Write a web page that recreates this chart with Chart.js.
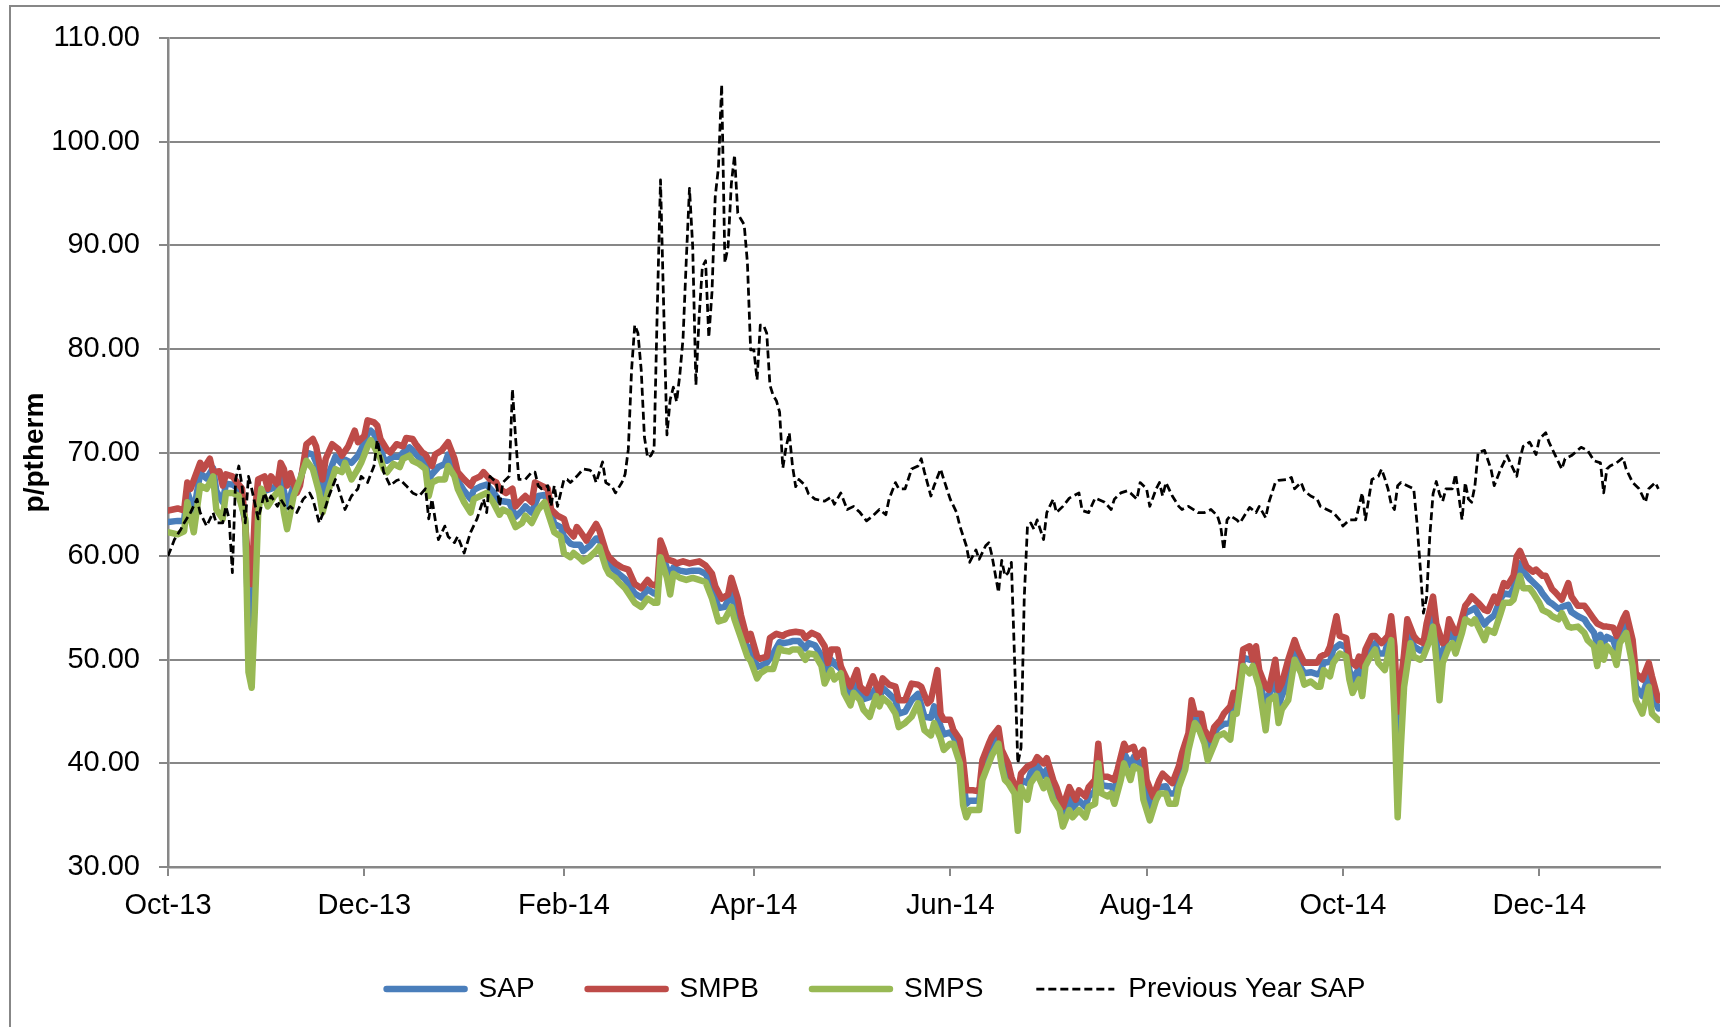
<!DOCTYPE html>
<html>
<head>
<meta charset="utf-8">
<script src="https://cdn.jsdelivr.net/npm/chart.js@4.4.1/dist/chart.umd.min.js"></script>
<style>
html,body{margin:0;padding:0;background:#fff;}
#wrap{position:relative;width:1720px;height:1027px;overflow:hidden;}
#frame{position:absolute;left:9px;top:5px;width:1800px;height:1100px;border-left:2px solid #878787;border-top:2px solid #878787;pointer-events:none;}
canvas{position:absolute;left:0;top:0;}
</style>
</head>
<body>
<div id="wrap"><canvas id="c" width="1720" height="1027"></canvas><div id="frame"></div></div>
<script>
// Day 0 = 1 Oct 2013; each pair is [day, p/therm]
const START_DATE = '2013-10-01';
const TICK_DATES = ['2013-10-01','2013-12-01','2014-02-01','2014-04-01','2014-06-01','2014-08-01','2014-10-01','2014-12-01'];
const TICK_LABELS = ['Oct-13','Dec-13','Feb-14','Apr-14','Jun-14','Aug-14','Oct-14','Dec-14'];
const SERIES_NAMES = ['SAP','SMPB','SMPS','Previous Year SAP'];

const SAP = [[0,63.3],[3,63.4],[5,63.4],[6,66.2],[8,64.3],[10,68],[12,67.5],[14,68.5],[15,66.3],[17,65.2],[18,67],[20,66.9],[22,66.5],[24,63.3],[25,53],[26,51],[27,60],[28,65.5],[30,66.3],[33,66.6],[35,67.8],[36,66.3],[37,64.7],[39,66.8],[41,67.1],[43,70],[45,69.8],[47,68.3],[48,65.8],[50,68],[52,69.6],[54,68.9],[55,69.3],[57,69],[59,69.7],[60,70.3],[62,71.8],[63,72.1],[64,71.8],[66,70.4],[67,69.4],[68,69.2],[70,69.6],[72,69.6],[73,70],[75,70.5],[76,70.2],[78,69.5],[80,69.1],[81,67.4],[82,67.9],[84,68.6],[86,68.9],[87,69.8],[89,68.5],[90,67.3],[92,66.3],[94,65.5],[95,66.4],[97,66.7],[99,66.9],[101,66.2],[103,65.3],[104,65.3],[106,65.2],[108,63.8],[110,64.4],[111,64.8],[113,64.2],[115,65.8],[117,65.9],[118,65.3],[120,63.1],[122,62.8],[123,61.9],[125,61.2],[126,61.1],[128,61.1],[129,60.5],[131,61],[133,61.7],[134,61.7],[136,59.7],[137,59.1],[139,58.6],[140,58.3],[142,57.8],[145,56.4],[147,56],[149,56.8],[151,56.4],[152,56.3],[153,60.7],[155,58.8],[156,58],[157,58.9],[159,58.6],[161,58.5],[163,58.6],[165,58.6],[167,58.3],[169,57.1],[171,55],[173,55.1],[175,56.5],[176,55],[178,53.2],[180,51.1],[181,51.2],[183,49.3],[184,49.4],[186,49.7],[188,50.6],[190,51.7],[191,51.6],[193,51.7],[194,51.8],[196,51.8],[198,51.1],[199,51.6],[201,51.4],[203,50.4],[204,48.7],[206,50],[207,49.6],[209,49.1],[210,47.8],[212,46.5],[213,47.9],[215,46.8],[216,46.2],[218,46.4],[220,47.3],[221,46.2],[222,47.3],[224,46.7],[226,46.1],[227,44.8],[229,45],[231,46.1],[233,46.7],[235,44.5],[237,44.4],[238,45.5],[240,43.6],[241,42.8],[243,43],[244,42.6],[246,41.2],[247,38.3],[248,36.1],[249,36.4],[251,36.4],[252,36.4],[253,39.3],[255,40.9],[256,41.7],[258,42.6],[259,40.5],[260,39.3],[261,39.1],[263,37.9],[264,35.3],[265,38.4],[267,38.1],[268,39.1],[270,39.8],[272,38.8],[273,39.4],[275,37.5],[277,36.6],[278,34.9],[280,36.6],[281,35.7],[283,36.4],[285,35.8],[286,36.8],[288,37.3],[289,41],[290,37.9],[292,37.8],[293,37.8],[294,37.3],[296,39.9],[297,41],[299,39.8],[300,40.6],[302,40],[303,38.9],[305,35.6],[307,37.4],[308,37.7],[310,37.8],[311,37.1],[313,37.1],[314,38.7],[316,40.2],[317,42.1],[318,45],[319,44.4],[320,44.1],[322,42.6],[323,41.3],[325,42.7],[326,43.4],[328,43.8],[330,43.9],[331,45.8],[332,45.5],[334,50.2],[336,50],[337,50.4],[339,48.2],[341,45.3],[342,46.6],[344,48.2],[345,45.5],[346,46.5],[348,48],[350,51],[352,49.2],[353,48.7],[355,48.8],[357,48.6],[358,48.8],[359,49.7],[361,49.8],[362,51],[364,51.5],[366,51.2],[367,49],[368,48],[370,49.2],[371,48],[372,50.2],[373,51.1],[375,51.6],[376,50.6],[378,50.6],[380,53],[381,48],[382,40],[383,46],[384,49],[386,52.7],[387,51.3],[389,50.9],[390,50.9],[392,52.7],[393,54.6],[394,51.8],[395,49],[396,50.8],[398,52.6],[399,52.2],[400,51.6],[402,53.2],[403,54.5],[405,54.8],[406,55],[407,54.4],[409,53.4],[410,53.8],[412,54.3],[414,55.9],[415,56.4],[417,56.3],[418,56.9],[420,59.3],[421,58.6],[423,57.8],[424,57.5],[426,56.9],[427,56.4],[429,55.6],[430,55.4],[432,54.9],[433,55.1],[435,55.3],[436,54.6],[438,54.2],[440,53.9],[441,53.4],[443,52.6],[444,51.5],[445,52.4],[446,51.6],[447,52.2],[449,51.9],[450,50.9],[451,52.6],[453,53.5],[455,50.6],[456,47.4],[458,46.5],[460,48.5],[461,46.6],[463,45.3]];

const SMPB = [[0,64.4],[3,64.6],[5,64.4],[6,67.1],[7,66.5],[10,69],[11,68.4],[13,69.4],[14,68.1],[16,68.2],[17,66.8],[18,67.9],[20,67.7],[21,67.3],[23,66.5],[24,63],[25,59],[26,57.3],[27,64.2],[28,67.4],[30,67.7],[31,66.5],[32,67.7],[34,66.9],[35,69],[36,68.4],[37,66.8],[38,68],[40,66.1],[41,66.8],[43,70.8],[45,71.3],[46,70.6],[48,67.4],[49,69.4],[51,70.8],[53,70.3],[54,69.7],[56,70.6],[58,72.1],[59,71],[61,71.6],[62,73.1],[64,72.9],[65,72.6],[66,71.3],[68,70.3],[69,70],[71,70.8],[73,70.6],[74,71.4],[76,71.3],[77,70.8],[79,70],[80,69.8],[82,68.7],[83,69.8],[85,70.2],[87,71],[89,69.4],[90,68.1],[92,67.4],[94,66.8],[95,67.4],[97,67.7],[98,68.1],[100,67.4],[102,67.1],[103,66.5],[105,66.1],[107,66.5],[108,64.8],[110,65.5],[111,65.8],[113,65.2],[114,67.1],[116,66.8],[118,66.5],[119,64.5],[121,63.9],[123,63.6],[124,62.6],[126,61.9],[127,62.8],[128,62.4],[130,61.5],[131,62.1],[133,63.1],[134,62.5],[136,60.5],[137,59.9],[139,59.3],[141,58.9],[143,58.7],[145,57.3],[147,56.9],[149,57.7],[150,57.3],[152,57.1],[153,61.5],[154,60.7],[155,59.7],[157,59.5],[158,59.3],[160,59.5],[162,59.3],[165,59.5],[167,59.1],[169,58.3],[170,57.1],[172,55.9],[174,56.3],[175,57.9],[177,55.9],[178,54.3],[180,51.9],[181,52.5],[183,50.3],[184,50.1],[186,50.3],[187,52.1],[189,52.5],[191,52.3],[192,52.5],[193,52.6],[195,52.7],[197,52.6],[198,52.1],[200,52.6],[202,52.3],[204,51.3],[205,49.7],[206,51],[208,51],[209,49.4],[210,48.7],[212,47.4],[214,49],[215,47.4],[217,46.8],[219,48.4],[221,46.8],[222,48.2],[224,47.6],[226,47.4],[227,46.1],[229,46.1],[231,47.7],[233,47.6],[234,47.4],[236,45.8],[237,46.1],[239,49],[240,44.8],[241,44.2],[243,44.2],[244,43.2],[246,42.3],[247,40.3],[248,37.4],[250,37.4],[252,37.3],[253,40.3],[255,41.9],[256,42.6],[258,43.4],[259,41.3],[261,40],[262,38.7],[264,37.1],[265,39],[267,39.7],[269,40],[270,40.6],[272,40],[273,40.5],[275,38.4],[276,37.7],[278,35.8],[280,37.7],[282,36.5],[283,37.4],[285,36.8],[286,37.7],[288,38.4],[289,41.9],[290,38.7],[292,38.7],[294,38.4],[295,39.4],[297,41.9],[298,41.3],[300,41.6],[301,40.6],[303,41.3],[304,38.4],[306,36.8],[308,38.4],[309,39],[311,38.4],[312,38.1],[314,39.7],[315,41],[317,42.9],[318,46.1],[319,44.8],[321,44.8],[322,43.2],[324,42.3],[325,43.5],[327,44.2],[328,44.8],[330,45.5],[331,46.8],[332,46.1],[334,51],[336,51.3],[337,50],[338,51.3],[339,49],[341,47.4],[342,47.1],[344,50],[345,47.1],[346,47.7],[348,50],[350,51.9],[351,51],[353,49.7],[355,49.7],[357,49.7],[358,50.3],[360,50.6],[361,51.3],[363,54.2],[364,52.3],[366,52.1],[367,50],[369,49.4],[370,50.3],[371,49.4],[372,51],[374,52.3],[375,52.3],[377,51.6],[379,52.3],[380,54.2],[381,51.3],[382,45],[384,50.6],[385,53.9],[387,52.3],[388,51.9],[390,51.6],[391,53.5],[393,56.1],[394,53.5],[396,51.6],[397,51.9],[398,53.9],[400,52.6],[401,52.9],[403,55.2],[404,55.6],[405,56.1],[407,55.5],[409,54.8],[410,54.7],[412,56.1],[413,55.5],[415,57.4],[416,57.1],[418,58.1],[419,60],[420,60.5],[422,59],[424,58.5],[425,58.7],[427,58.1],[428,58.1],[430,56.8],[431,56.5],[433,55.8],[435,57.4],[436,56.1],[438,55.2],[440,55.2],[441,54.8],[443,53.9],[444,53.5],[446,53.2],[447,53.2],[449,53.1],[450,52.3],[452,53.9],[453,54.5],[455,51.9],[456,48.7],[458,48.1],[460,49.7],[461,48.4],[463,46.1]];

const SMPS = [[0,62.3],[3,62.1],[5,62.4],[6,65.2],[8,62.3],[10,66.8],[12,66.5],[14,67.7],[15,64.5],[17,63.6],[18,66.1],[20,66.1],[22,65.8],[24,63.6],[25,48.8],[26,47.3],[27,55],[28,64],[29,66.5],[31,64.8],[33,65.8],[35,66.5],[36,64.2],[37,62.6],[39,65.8],[41,67.4],[43,69.2],[45,68.4],[47,66.1],[48,64.2],[50,66.5],[52,68.4],[54,68.1],[55,69],[57,67.4],[59,68.4],[60,69],[62,70.6],[63,71.2],[64,70.6],[66,69.4],[67,68.4],[68,68.1],[70,68.9],[72,68.6],[73,69.4],[75,69.7],[76,69.2],[78,68.9],[80,68.4],[81,65.8],[82,67.1],[84,67.4],[86,67.4],[87,68.7],[89,67.7],[90,66.5],[92,65.2],[94,64.2],[95,65.5],[97,65.8],[99,66.1],[101,65.2],[103,64],[104,64.5],[106,64.2],[108,62.8],[110,63.2],[111,63.9],[113,63.2],[115,64.5],[117,65.2],[118,64.2],[120,62.3],[122,61.9],[123,60.3],[125,59.9],[126,60.3],[128,59.8],[129,59.5],[131,59.9],[133,60.5],[134,60.9],[136,58.9],[137,58.3],[139,57.9],[140,57.5],[142,56.9],[145,55.5],[147,55.1],[149,55.9],[151,55.5],[152,55.5],[153,59.9],[155,57.9],[156,56.3],[157,58.3],[159,57.9],[161,57.7],[163,57.9],[165,57.7],[167,57.5],[169,55.9],[171,53.7],[173,53.9],[175,55.1],[176,53.9],[178,52.1],[180,50.3],[181,49.9],[183,48.2],[184,48.7],[186,49.1],[188,49.1],[190,51.1],[191,50.9],[193,50.8],[194,51],[196,51],[198,50],[199,50.6],[201,50.5],[203,49.4],[204,47.7],[206,49],[207,48.1],[209,48.7],[210,46.8],[212,45.6],[213,46.8],[215,46.1],[216,45.2],[218,44.5],[220,46.5],[221,45.5],[222,46.3],[224,45.8],[226,44.8],[227,43.5],[229,43.9],[231,44.5],[233,45.8],[235,43.2],[237,42.7],[238,43.9],[240,42.4],[241,41.3],[243,41.9],[244,41.9],[246,40],[247,36],[248,34.8],[249,35.5],[251,35.5],[252,35.5],[253,38.4],[255,40],[256,40.8],[258,41.9],[259,39.7],[260,38.4],[261,38.1],[263,37.1],[264,33.5],[265,37.7],[267,36.5],[268,38.1],[270,39],[272,37.6],[273,38.4],[275,36.5],[277,35.5],[278,33.9],[280,35.5],[281,34.8],[283,35.5],[285,34.8],[286,35.8],[288,36.1],[289,40],[290,37.1],[292,36.8],[293,37.1],[294,36.1],[296,38.4],[297,40],[299,38.4],[300,39.7],[302,39.4],[303,36.5],[305,34.5],[307,36.5],[308,37.1],[310,37.1],[311,36.1],[313,36.1],[314,37.7],[316,39.4],[317,41.3],[319,43.9],[320,43.5],[322,41.9],[323,40.3],[325,41.8],[326,42.6],[328,42.9],[330,42.3],[331,44.8],[332,44.8],[334,49.4],[336,48.7],[337,49.4],[339,47.4],[341,43.2],[342,46.1],[344,46.5],[345,43.9],[346,45.2],[348,46.1],[350,50],[352,48.7],[353,47.6],[355,47.9],[357,47.4],[358,47.4],[359,49],[361,48.4],[362,49.7],[364,50.6],[366,50.3],[367,48.1],[368,46.8],[370,48.1],[371,46.5],[372,49.4],[373,50],[375,51],[376,49.7],[378,49],[380,51.9],[381,44.8],[382,34.8],[383,41.6],[384,47.4],[386,51.6],[387,50.3],[389,50],[390,50.3],[392,51.9],[393,53.2],[394,50],[395,46.1],[396,49.7],[398,51.3],[399,51.6],[400,50.6],[402,52.6],[403,53.9],[405,53.5],[406,53.9],[407,53.2],[409,51.9],[410,52.9],[412,52.6],[414,54.5],[415,55.5],[417,55.5],[418,55.8],[420,58.1],[421,56.9],[423,56.9],[424,56.5],[426,55.5],[427,54.8],[429,54.5],[430,54.2],[432,53.9],[433,54.5],[435,53.2],[436,53.1],[438,53.2],[440,52.6],[441,51.9],[443,51.3],[444,49.4],[445,51.6],[446,50],[447,51.3],[449,50.6],[450,49.5],[451,51.6],[453,52.6],[455,49.4],[456,46.1],[458,44.8],[460,47.4],[461,44.8],[463,44.2]];

const PREV_SAP = [[0,60],[2,61.6],[4,62.6],[5,63.2],[7,64.2],[9,65.5],[10,64.2],[12,62.9],[14,64.2],[15,63.2],[17,63.2],[18,64.8],[19,63.6],[20,58.4],[21,67.4],[22,68.7],[23,66.8],[24,63.2],[25,67.7],[26,66.5],[28,63.6],[30,66.1],[31,65.2],[32,65.8],[34,64.8],[35,65.5],[37,64.5],[38,64.8],[40,64.2],[42,65.5],[44,66.1],[45,65.5],[47,63.2],[49,64.8],[50,65.8],[52,67.4],[53,66.5],[55,64.5],[57,65.8],[59,66.5],[60,67.7],[62,67.1],[64,68.7],[65,71.2],[66,69.7],[67,68.1],[69,66.8],[71,67.3],[72,67.4],[74,66.8],[76,66.1],[78,65.8],[80,66.5],[81,63.6],[82,65.5],[84,61.6],[86,62.9],[87,61.9],[89,61.3],[90,61.9],[92,60.3],[94,62.3],[96,63.6],[98,65.5],[99,64.2],[100,67.7],[102,67.1],[103,64.8],[104,67.1],[106,67.7],[107,76.1],[108,71.3],[109,67.4],[111,67.4],[113,68.1],[114,68.1],[115,66.8],[116,66.5],[118,66.8],[119,64.8],[120,66.8],[121,64.8],[123,67.4],[124,67.4],[125,67.1],[127,67.7],[129,68.4],[131,68.3],[132,68.1],[133,67.1],[135,69.1],[136,67.1],[138,66.7],[139,66.1],[141,67.1],[142,67.9],[143,70.3],[144,77.9],[145,82.3],[146,81.5],[147,78],[148,71.5],[149,69.5],[150,69.7],[151,70.3],[152,83.9],[153,96.3],[154,83.9],[155,71.7],[156,75.1],[157,76.3],[158,74.9],[159,77.5],[160,81],[161,88.5],[162,95.5],[163,89.9],[164,76.5],[165,83.1],[166,87.9],[167,88.5],[168,81.1],[169,85.5],[170,94.7],[171,97.5],[172,105.5],[173,88.3],[174,89.9],[175,95.9],[176,98.7],[177,93.1],[178,92.5],[179,92],[180,88.3],[181,79.9],[182,79.9],[183,77],[184,82.3],[185,82.3],[186,81.5],[187,76.5],[188,75.5],[189,75],[190,73.9],[191,68.5],[192,70.5],[193,71.9],[194,68.7],[195,66.7],[196,67.4],[198,66.8],[199,66],[201,65.5],[204,65.3],[206,65.7],[207,65],[209,66.1],[211,64.5],[213,64.8],[215,64.2],[217,63.4],[219,63.9],[221,64.5],[223,64],[224,65.5],[226,67.1],[227,66.5],[229,66.5],[231,68.4],[233,68.7],[234,69.4],[235,68.1],[237,65.8],[238,66.8],[240,68.4],[241,67.4],[243,65.5],[245,64.2],[246,62.9],[248,61],[249,59.4],[251,60.6],[252,59.7],[254,61],[255,61.3],[256,60],[258,56.5],[259,59.6],[260,58.1],[261,58.4],[262,59.4],[263,50],[264,40],[265,41.5],[266,56],[267,62.9],[268,63.2],[269,62.6],[270,63.5],[272,61.6],[273,64.2],[275,65.5],[276,64.2],[278,64.8],[280,65.6],[283,66.1],[284,64.4],[286,64.2],[288,65.6],[291,65.2],[293,64.5],[294,65.5],[296,66.1],[298,66.3],[299,66.1],[301,65.5],[302,67.1],[304,66.5],[305,64.8],[307,66.5],[308,67.1],[309,65.8],[310,67.1],[312,65.8],[314,64.8],[315,64.5],[317,64.8],[320,64.2],[322,64.2],[324,64.5],[326,63.9],[327,62.9],[328,60.6],[329,63.5],[330,63.9],[332,63.5],[333,63.2],[335,64.2],[336,64.7],[338,64.2],[339,64.8],[341,63.7],[342,65.2],[344,67.1],[345,67.3],[348,67.4],[349,67.6],[350,66.5],[352,67.1],[353,66.3],[355,65.8],[357,65.5],[358,64.8],[360,64.5],[362,64.2],[364,63.5],[365,62.9],[367,63.5],[369,63.5],[370,64.8],[371,66.1],[372,63.5],[373,65.5],[374,67.4],[376,67.7],[377,68.4],[378,67.5],[379,66.5],[380,65],[381,64.5],[382,66.8],[383,67.1],[385,66.8],[387,66.5],[388,63.2],[389,59],[390,54.5],[391,56],[392,62],[393,66],[394,67.2],[395,66],[396,65.3],[397,66.5],[399,66.5],[400,67.9],[401,65.8],[402,63.5],[403,67.1],[404,65.5],[405,65.2],[406,66.8],[407,70],[409,70.2],[411,68.4],[412,66.8],[414,68.4],[416,69.7],[417,69],[419,67.7],[420,69.4],[421,70.6],[423,71],[425,69.8],[426,71.3],[428,71.9],[429,71],[431,69.7],[433,68.4],[434,69.4],[436,69.7],[439,70.5],[441,70.2],[443,69.2],[445,69],[446,66.1],[447,68.4],[448,68.7],[450,69],[452,69.5],[453,68.4],[455,67.1],[457,66.5],[459,65.2],[460,66.5],[462,67.1],[463,66.5]];

const DAY_MS = 86400000;
const dayOf = d => (Date.parse(d) - Date.parse(START_DATE)) / DAY_MS;
const TICK_DAYS = TICK_DATES.map(dayOf);
const toPts = arr => arr.map(p => ({x: p[0], y: p[1]}));

const FONT = "'Liberation Sans', Arial, Helvetica, sans-serif";
const GRID = '#878787';
const PREV_DASH = [8, 4];

new Chart(document.getElementById('c').getContext('2d'), {
  type: 'line',
  data: {
    datasets: [
      {label: SERIES_NAMES[0], data: toPts(SAP), borderColor: '#4A7EBB', backgroundColor: '#4A7EBB', borderWidth: 6.5, order: 4, borderCapStyle: 'round', borderJoinStyle: 'round'},
      {label: SERIES_NAMES[1], data: toPts(SMPB), borderColor: '#BE4B48', backgroundColor: '#BE4B48', borderWidth: 6.5, order: 3, borderCapStyle: 'round', borderJoinStyle: 'round'},
      {label: SERIES_NAMES[2], data: toPts(SMPS), borderColor: '#98B954', backgroundColor: '#98B954', borderWidth: 6.5, order: 2, borderCapStyle: 'round', borderJoinStyle: 'round'},
      {label: SERIES_NAMES[3], data: toPts(PREV_SAP), borderColor: '#000000', backgroundColor: '#000000', borderWidth: 2.75, borderDash: PREV_DASH, order: 1, borderCapStyle: 'butt', borderJoinStyle: 'round'}
    ]
  },
  options: {
    responsive: false,
    animation: false,
    devicePixelRatio: 1,
    layout: {padding: {left: 32, right: 0, top: 38, bottom: 14}},
    elements: {point: {radius: 0, hoverRadius: 0}, line: {tension: 0, fill: false}},
    plugins: {
      tooltip: {enabled: false},
      legend: {
        position: 'bottom',
        labels: {
          usePointStyle: true,
          pointStyle: 'line',
          pointStyleWidth: 78,
          padding: 53,
          color: '#000',
          font: {family: FONT, size: 28},
          sort: (a, b) => a.datasetIndex - b.datasetIndex,
          generateLabels: chart => {
            const items = Chart.defaults.plugins.legend.labels.generateLabels(chart);
            items.forEach(it => {
              const ds = chart.data.datasets[it.datasetIndex];
              it.lineWidth = ds.borderWidth;
              it.strokeStyle = ds.borderColor;
              it.lineDash = ds.borderDash || [];
              it.lineCap = ds.borderCapStyle;
            });
            return items;
          }
        }
      }
    },
    scales: {
      x: {
        type: 'linear',
        min: 0,
        max: 463.5,
        afterBuildTicks: s => { s.ticks = TICK_DAYS.map(v => ({value: v})); },
        afterFit: s => { s.height = 55; },
        ticks: {autoSkip: false, maxRotation: 0, minRotation: 0, padding: 13, color: '#000', font: {family: FONT, size: 29},
                callback: (v, i) => TICK_LABELS[i]},
        grid: {drawOnChartArea: false, drawTicks: true, tickLength: 9, color: GRID, lineWidth: 2},
        border: {color: GRID, width: 2.5}
      },
      y: {
        min: 30,
        max: 110,
        afterFit: s => { s.width = 136; },
        ticks: {stepSize: 10, padding: 19, color: '#000', font: {family: FONT, size: 29}, callback: v => Number(v).toFixed(2)},
        grid: {color: GRID, lineWidth: 2, tickLength: 9},
        border: {color: GRID, width: 2.5},
        title: {display: true, text: 'p/ptherm', color: '#000', font: {family: FONT, size: 28, weight: 'bold'}, padding: {top: -14, bottom: 0}}
      },
      spacer: {
        position: 'right',
        display: true,
        min: 0,
        max: 1,
        afterFit: s => { s.width = 60; },
        ticks: {display: false},
        grid: {display: false, drawTicks: false},
        border: {display: false}
      }
    }
  }
});
</script>
</body>
</html>
